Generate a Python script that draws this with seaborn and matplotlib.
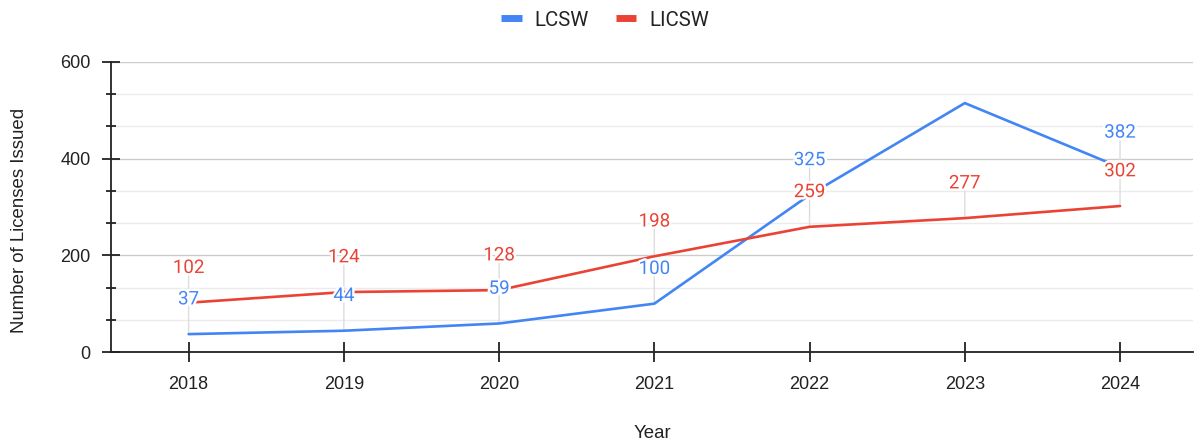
import pandas as pd
import seaborn as sns
import matplotlib.pyplot as plt
import matplotlib.patheffects as pe
from matplotlib.ticker import MultipleLocator

# Data
years = ["2018", "2019", "2020", "2021", "2022", "2023", "2024"]
lcsw = [37, 44, 59, 100, 325, 515, 382]
licsw = [102, 124, 128, 198, 259, 277, 302]
# 2023 LCSW label is not shown in the original
lcsw_labels = ["37", "44", "59", "100", "325", None, "382"]
licsw_labels = ["102", "124", "128", "198", "259", "277", "302"]

df = pd.DataFrame({
    "Year": years * 2,
    "Licenses": lcsw + licsw,
    "Type": ["LCSW"] * len(years) + ["LICSW"] * len(years),
})

blue = "#4285F4"
red = "#EA4335"

sns.set_style("white")
plt.rcParams["font.family"] = ["Liberation Sans", "DejaVu Sans"]

fig = plt.figure(figsize=(11.94, 4.44), dpi=100)
ax = fig.add_axes([111 / 1194, 1 - 352 / 444, (1193 - 111) / 1194, (352 - 62) / 444])

sns.lineplot(data=df, x="Year", y="Licenses", hue="Type",
             palette={"LCSW": blue, "LICSW": red}, linewidth=1.9,
             ax=ax, zorder=3, sort=False)

ax.set_xlim(-0.5, 6.47)
ax.set_ylim(0, 600)
ax.yaxis.set_major_locator(MultipleLocator(200))
ax.yaxis.set_minor_locator(MultipleLocator(200 / 3))
ax.grid(which="major", axis="y", color="#cccccc", lw=1)
ax.grid(which="minor", axis="y", color="#ebebeb", lw=1)
ax.grid(which="major", axis="x", visible=False)
ax.set_axisbelow(True)

for s in ["top", "right"]:
    ax.spines[s].set_visible(False)
for s in ["left", "bottom"]:
    ax.spines[s].set_color("#222222")
    ax.spines[s].set_linewidth(1.3)
    ax.spines[s].set_zorder(4)

ax.tick_params(which="both", left=True, bottom=True)
ax.tick_params(axis="y", which="major", direction="inout", length=13, width=1.3,
               color="#222222", labelsize=13, labelcolor="#222222", pad=8)
ax.tick_params(axis="y", which="minor", direction="inout", length=7, width=1.3,
               color="#222222")
ax.tick_params(axis="x", direction="inout", length=14, width=1.3,
               color="#222222", labelsize=13, labelcolor="#222222", pad=10)

ax.set_xlabel("Year", fontsize=13.4, color="#222222")
ax.set_ylabel("Number of Licenses Issued", fontsize=13.4, color="#222222")
ax.xaxis.set_label_coords(0.5, (352 - 433) / 290, transform=ax.transAxes)
ax.xaxis.label.set_va("center")
ax.yaxis.set_label_coords((20 - 111) / 1082, (352 - 220) / 290, transform=ax.transAxes)
ax.yaxis.label.set_va("center")

# data labels with leader lines
halo = [pe.withStroke(linewidth=3.5, foreground="white")]
for vals, labs, col in [(lcsw, lcsw_labels, blue), (licsw, licsw_labels, red)]:
    for i, (v, lab) in enumerate(zip(vals, labs)):
        if lab is None:
            continue
        ax.annotate("", xy=(i, v), xytext=(0, 20), textcoords="offset points",
                    arrowprops=dict(arrowstyle="-", color="#dddddd", lw=1,
                                    shrinkA=0, shrinkB=0), zorder=1)
        ax.annotate(lab, xy=(i, v), xytext=(0, 25), textcoords="offset points",
                    ha="center", va="center", color=col, fontsize=13.5,
                    family=["Roboto", "DejaVu Sans"], path_effects=halo, zorder=5)

handles, labels = ax.get_legend_handles_labels()
ax.get_legend().remove()
leg = fig.legend(handles, labels, loc="center", bbox_to_anchor=(605 / 1194, 1 - 20 / 444),
                 ncol=2, frameon=False, handlelength=1.0,
                 columnspacing=1.3, handletextpad=0.64,
                 prop={"family": ["Roboto", "DejaVu Sans"], "size": 14.7})
for line in leg.get_lines():
    line.set_linewidth(5)
    line.set_solid_capstyle("butt")
for t in leg.get_texts():
    t.set_color("#222222")

fig.savefig("out.png", dpi=100)
